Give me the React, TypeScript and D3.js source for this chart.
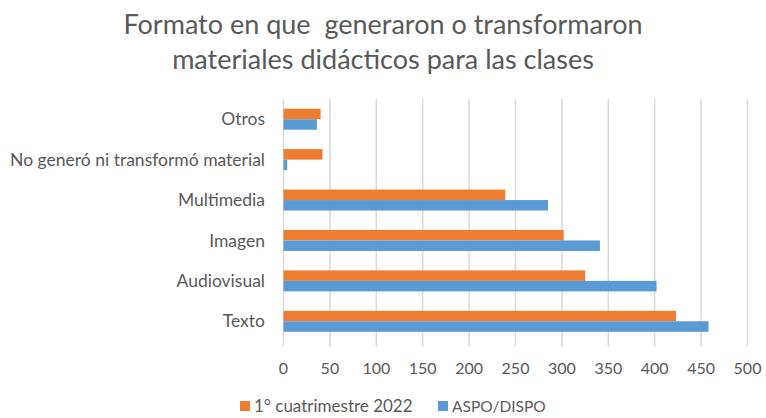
import React, { useRef, useEffect } from 'react';
import * as d3 from 'd3';

const categories = ['Otros', 'No generó ni transformó material', 'Multimedia', 'Imagen', 'Audiovisual', 'Texto'];
const seriesNames = ['1° cuatrimestre 2022', 'ASPO/DISPO'];
const cuatrimestre2022 = [40, 42, 239, 302, 325, 423];
const aspoDispo = [36, 4, 285, 341, 402, 458];
const xTicks = [0, 50, 100, 150, 200, 250, 300, 350, 400, 450, 500];
const colors = ['#ED7D31', '#5B9BD5'];

const App = () => {
  const ref = useRef<SVGSVGElement>(null);

  useEffect(() => {
    const width = 766;
    const height = 418;
    const font = 'Lato, "Open Sans", sans-serif';
    const textColor = '#595959';
    const left = 283.5, right = 747.5, top = 99, bottom = 341.5;

    const svg = d3.select(ref.current);
    svg.selectAll('*').remove();

    svg.append('rect').attr('width', width).attr('height', height).attr('fill', '#fff');

    // title
    const title = svg.append('text')
      .attr('text-anchor', 'middle')
      .attr('fill', textColor)
      .style('font-family', font)
      .style('font-size', '27px')
      .style('white-space', 'pre');
    title.append('tspan').attr('x', 383).attr('y', 34).text('Formato en que  generaron o transformaron');
    title.append('tspan').attr('x', 383).attr('y', 69).text('materiales didácticos para las clases');

    const x = d3.scaleLinear().domain([0, 500]).range([left, right]);
    const y = d3.scaleBand().domain(categories).range([top, bottom]).paddingInner(0.48).paddingOuter(0.24);
    const sub = d3.scaleBand().domain(seriesNames).range([0, y.bandwidth()]);

    // gridlines
    svg.append('g')
      .selectAll('line')
      .data(xTicks)
      .join('line')
      .attr('x1', d => x(d)).attr('x2', d => x(d))
      .attr('y1', top).attr('y2', bottom + 5)
      .attr('stroke', '#d9d9d9')
      .attr('stroke-width', 1.5);

    const series = [cuatrimestre2022, aspoDispo];
    series.forEach((vals, si) => {
      svg.append('g')
        .selectAll('rect')
        .data(vals)
        .join('rect')
        .attr('x', x(0))
        .attr('y', (d, i) => (y(categories[i]) as number) + (sub(seriesNames[si]) as number))
        .attr('width', d => x(d) - x(0))
        .attr('height', sub.bandwidth())
        .attr('fill', colors[si]);
    });

    // category labels
    svg.append('g')
      .selectAll('text')
      .data(categories)
      .join('text')
      .attr('x', 265)
      .attr('y', d => (y(d) as number) + y.bandwidth() / 2)
      .attr('dy', '0.35em')
      .attr('text-anchor', 'end')
      .attr('fill', textColor)
      .style('font-family', font)
      .style('font-size', '17.5px')
      .text(d => d);

    // tick labels
    svg.append('g')
      .selectAll('text')
      .data(xTicks)
      .join('text')
      .attr('x', d => x(d))
      .attr('y', 374)
      .attr('text-anchor', 'middle')
      .attr('fill', textColor)
      .style('font-family', font)
      .style('font-size', '16px')
      .text(d => d);

    // legend
    const legendX = [240, 438];
    const legendSize = ['17px', '15.5px'];
    seriesNames.forEach((name, i) => {
      svg.append('rect')
        .attr('x', legendX[i])
        .attr('y', 401)
        .attr('width', 10)
        .attr('height', 10)
        .attr('fill', colors[i]);
      svg.append('text')
        .attr('x', legendX[i] + 14)
        .attr('y', 412)
        .attr('fill', textColor)
        .style('font-family', font)
        .style('font-size', legendSize[i])
        .text(name);
    });
  }, []);

  return (
    <svg ref={ref} width={766} height={418} style={{ position: 'absolute', left: 0, top: 0 }} />
  );
};

export default App;
